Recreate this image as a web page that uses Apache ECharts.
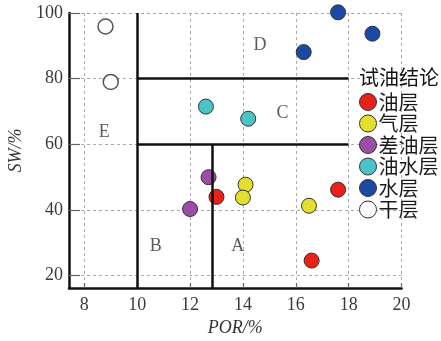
<!DOCTYPE html>
<html>
<head>
<meta charset="utf-8">
<script src="https://cdn.jsdelivr.net/npm/echarts@6/dist/echarts.min.js"></script>
<style>
html,body{margin:0;padding:0;background:#fff;}
#chart{width:441px;height:341px;}
</style>
</head>
<body>
<div id="chart"></div>
<script>
// ---- data ----
const X_MIN = 7.42, X_MAX = 20;
const Y_MIN = 16.25, Y_MAX = 100;
const xTicks = [8, 10, 12, 14, 16, 18, 20];
const yTicks = [20, 40, 60, 80, 100];
const xName = 'POR/%';
const yName = 'SW/%';
const legendTitle = '试油结论';
const seriesNames = ['油层', '气层', '差油层', '油水层', '水层', '干层'];
const oilLayer = [[13.0, 44.0], [17.6, 46.2], [16.6, 24.6]];
const gasLayer = [[14.1, 47.7], [14.0, 43.8], [16.5, 41.3]];
const poorOilLayer = [[12.7, 50.0], [12.0, 40.3]];
const oilWaterLayer = [[12.6, 71.5], [14.2, 67.8]];
const waterLayer = [[17.6, 100.2], [18.9, 93.7], [16.3, 88.1]];
const dryLayer = [[8.8, 95.9], [9.0, 79.0]];
const boundaryLines = [
  [[10, Y_MIN], [10, 100]],
  [[10, 80], [18, 80]],
  [[10, 60], [18, 60]],
  [[12.85, Y_MIN], [12.85, 60]]
];
const regionLabels = ['A', 'B', 'C', 'D', 'E'];
const regionPositions = [[13.8, 29.0], [10.7, 29.0], [15.5, 69.6], [14.65, 90.3], [8.75, 63.6]];

// ---- styles ----
const colors = ['#e8221b', '#e3df2f', '#9a4ea5', '#4cc3c6', '#1c4aa3', '#ffffff'];
const seriesData = [oilLayer, gasLayer, poorOilLayer, oilWaterLayer, waterLayer, dryLayer];
const SERIF = '"Liberation Serif", "Times New Roman", serif';
const CJK = '"Noto Sans CJK SC", sans-serif';

const chart = echarts.init(document.getElementById('chart'), null, {renderer: 'canvas'});

const scatterSeries = seriesNames.map((name, i) => ({
  name: name,
  type: 'scatter',
  data: seriesData[i],
  symbol: 'circle',
  symbolSize: 15,
  clip: false,
  z: 3,
  itemStyle: {
    color: colors[i],
    borderColor: i === 5 ? '#555' : '#333',
    borderWidth: i === 5 ? 1.5 : 1,
    opacity: 1
  },
  emphasis: {disabled: true}
}));

const option = {
  animation: false,
  backgroundColor: '#fff',
  title: {
    text: legendTitle,
    left: 359,
    top: 66,
    padding: 0,
    textStyle: {fontFamily: CJK, fontSize: 20, fontWeight: 'normal', color: '#111', lineHeight: 22}
  },
  legend: {
    orient: 'vertical',
    left: 359,
    top: 92,
    padding: 0,
    itemGap: 1.5,
    itemWidth: 17,
    itemHeight: 17,
    icon: 'circle',
    data: seriesNames,
    textStyle: {fontFamily: CJK, fontSize: 20, color: '#1a1a1a', lineHeight: 20, padding: [0, 0, 0, -3]},
    itemStyle: {borderColor: '#333', borderWidth: 1}
  },
  grid: {
    left: 69, right: 39.5, top: 13, bottom: 53,
    containLabel: false,
    outerBoundsMode: 'none'
  },
  xAxis: {
    type: 'value',
    min: X_MIN, max: X_MAX,
    name: xName,
    nameLocation: 'middle',
    nameGap: 30,
    nameTextStyle: {fontFamily: SERIF, fontStyle: 'italic', fontSize: 18, color: '#333'},
    axisLine: {show: true, onZero: false, lineStyle: {color: '#111', width: 2.5}},
    axisTick: {show: true, inside: true, length: 5, customValues: xTicks, lineStyle: {color: '#666', width: 1.2}},
    axisLabel: {customValues: xTicks, margin: 8, fontFamily: SERIF, fontSize: 18, color: '#3a3a3a', showMinLabel: true, showMaxLabel: true},
    splitLine: {show: true, lineStyle: {color: '#aaa', type: [3, 3], width: 1}}
  },
  yAxis: {
    type: 'value',
    min: Y_MIN, max: Y_MAX,
    name: yName,
    nameLocation: 'middle',
    nameGap: 38,
    nameRotate: 90,
    nameTextStyle: {fontFamily: SERIF, fontStyle: 'italic', fontSize: 18, color: '#333'},
    axisLine: {show: true, onZero: false, lineStyle: {color: '#111', width: 2.5}},
    axisTick: {show: true, inside: true, length: 11, customValues: yTicks, lineStyle: {color: '#666', width: 1.2}},
    axisLabel: {customValues: yTicks, margin: 6, fontFamily: SERIF, fontSize: 18, color: '#3a3a3a', showMinLabel: true, showMaxLabel: true},
    splitLine: {show: true, lineStyle: {color: '#aaa', type: [3, 3], width: 1}}
  },
  series: scatterSeries.concat([
    {
      name: 'boundaries',
      type: 'scatter',
      data: [],
      silent: true,
      z: 5,
      markLine: {
        silent: true,
        symbol: ['none', 'none'],
        animation: false,
        label: {show: false},
        lineStyle: {color: '#111', width: 2.5, type: 'solid'},
        emphasis: {disabled: true},
        data: boundaryLines.map(seg => [{coord: seg[0]}, {coord: seg[1]}])
      }
    },
    {
      name: 'regions',
      type: 'scatter',
      data: regionPositions.map((p, i) => ({value: p, name: regionLabels[i]})),
      symbolSize: 0,
      silent: true,
      z: 4,
      label: {
        show: true,
        position: 'inside',
        formatter: p => p.name,
        fontFamily: SERIF,
        fontSize: 18,
        color: '#333'
      }
    }
  ])
};
chart.setOption(option);
</script>
</body>
</html>
